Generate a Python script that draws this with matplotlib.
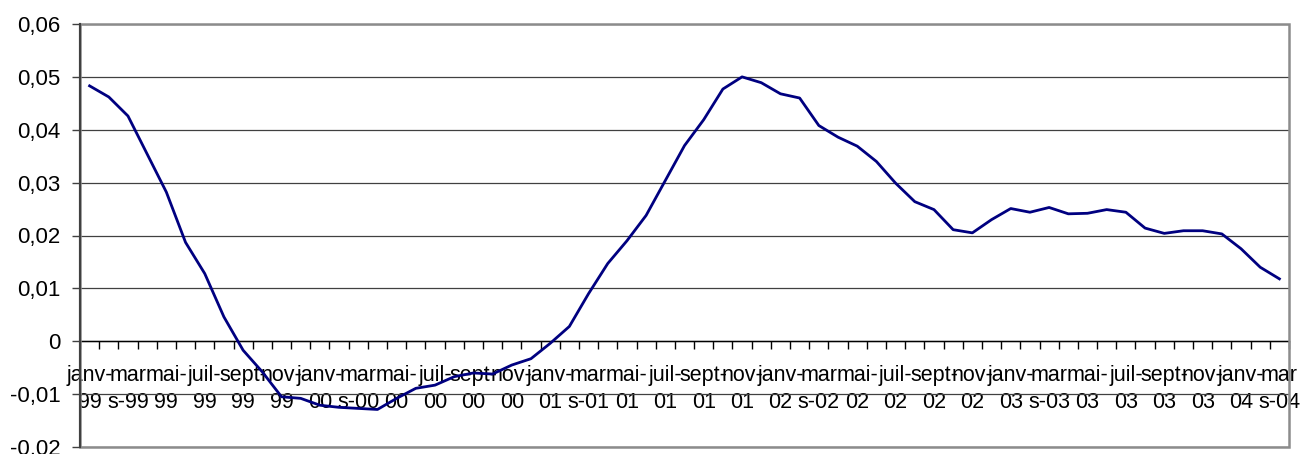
import numpy as np
import matplotlib
matplotlib.use("Agg")
import matplotlib.pyplot as plt
from matplotlib.patches import Rectangle
from matplotlib.ticker import FuncFormatter

plt.rcParams['font.family'] = ['Liberation Sans', 'DejaVu Sans']

# monthly values, janv-99 .. mars-04
values = [
    0.0483, 0.0462, 0.0426, 0.0354, 0.0282, 0.0187, 0.0128, 0.0046, -0.0017, -0.0058,
    -0.0105, -0.0108, -0.0121, -0.0125, -0.0127, -0.0129, -0.0108, -0.0089, -0.0083, -0.0067,
    -0.0060, -0.0062, -0.0045, -0.0033, -0.0004, 0.0028, 0.0090, 0.0147, 0.0190, 0.0238,
    0.0304, 0.0370, 0.0419, 0.0477, 0.0500, 0.0489, 0.0468, 0.0460, 0.0408, 0.0386,
    0.0369, 0.0340, 0.0299, 0.0264, 0.0249, 0.0211, 0.0205, 0.0230, 0.0251, 0.0244,
    0.0253, 0.0241, 0.0242, 0.0249, 0.0244, 0.0214, 0.0204, 0.0209, 0.0209, 0.0203,
    0.0175, 0.0140, 0.0118,
]

# one label every two months (Excel wraps them on two lines)
tick_labels = [
    "janv-\n99", "mar\ns-99", "mai-\n99", "juil-\n99", "sept-\n99", "nov-\n99",
    "janv-\n00", "mar\ns-00", "mai-\n00", "juil-\n00", "sept-\n00", "nov-\n00",
    "janv-\n01", "mar\ns-01", "mai-\n01", "juil-\n01", "sept-\n01", "nov-\n01",
    "janv-\n02", "mar\ns-02", "mai-\n02", "juil-\n02", "sept-\n02", "nov-\n02",
    "janv-\n03", "mar\ns-03", "mai-\n03", "juil-\n03", "sept-\n03", "nov-\n03",
    "janv-\n04", "mar\ns-04",
]

y_ticks = [-0.02, -0.01, 0, 0.01, 0.02, 0.03, 0.04, 0.05, 0.06]

x = np.arange(len(values))

fig = plt.figure(figsize=(13, 4.54), dpi=100)
ax = fig.add_axes([80 / 1300, 7 / 454, 1209 / 1300, 423 / 454])

ax.plot(x, values, color='#000080', lw=2.0, zorder=3)

ax.set_xlim(-0.5, len(values) - 0.5)
ax.set_ylim(-0.02, 0.06)

# y axis
ax.set_yticks(y_ticks)
ax.yaxis.set_major_formatter(FuncFormatter(
    lambda v, p: "0" if abs(v) < 1e-9 else ("%.2f" % v).replace('.', ',')))
ax.yaxis.grid(True, color='#404040', lw=0.9)
ax.set_axisbelow(True)
ax.tick_params(axis='y', direction='out', length=6, width=1, color='#404040',
               pad=8, labelsize=16)

# x axis sits at zero, ticks between the categories
ax.spines['bottom'].set_position(('data', 0))
ax.spines['bottom'].set_color('black')
ax.spines['bottom'].set_linewidth(1)
ax.set_xticks(np.arange(-0.5, len(values), 1.0))
ax.set_xticklabels([])
ax.set_xticks(x[::2], minor=True)
ax.set_xticklabels(tick_labels, minor=True, linespacing=1.4)
ax.tick_params(axis='x', which='major', direction='out', length=6, width=1, color='black')
ax.tick_params(axis='x', which='minor', length=0, pad=17, labelsize=15.5)

ax.spines['left'].set_color('#404040')
ax.spines['left'].set_linewidth(1.5)
ax.spines['top'].set_visible(False)
ax.spines['right'].set_visible(False)

# grey frame of the plot area
ax.add_patch(Rectangle((0, 0), 1, 1, transform=ax.transAxes, fill=False,
                       edgecolor='#8c8c8c', lw=1.8, zorder=4, clip_on=False))
ax.plot([0, 0], [0, 1], transform=ax.transAxes, color='#404040', lw=1.5,
        zorder=5, clip_on=False)

fig.savefig('out.png', dpi=100)
